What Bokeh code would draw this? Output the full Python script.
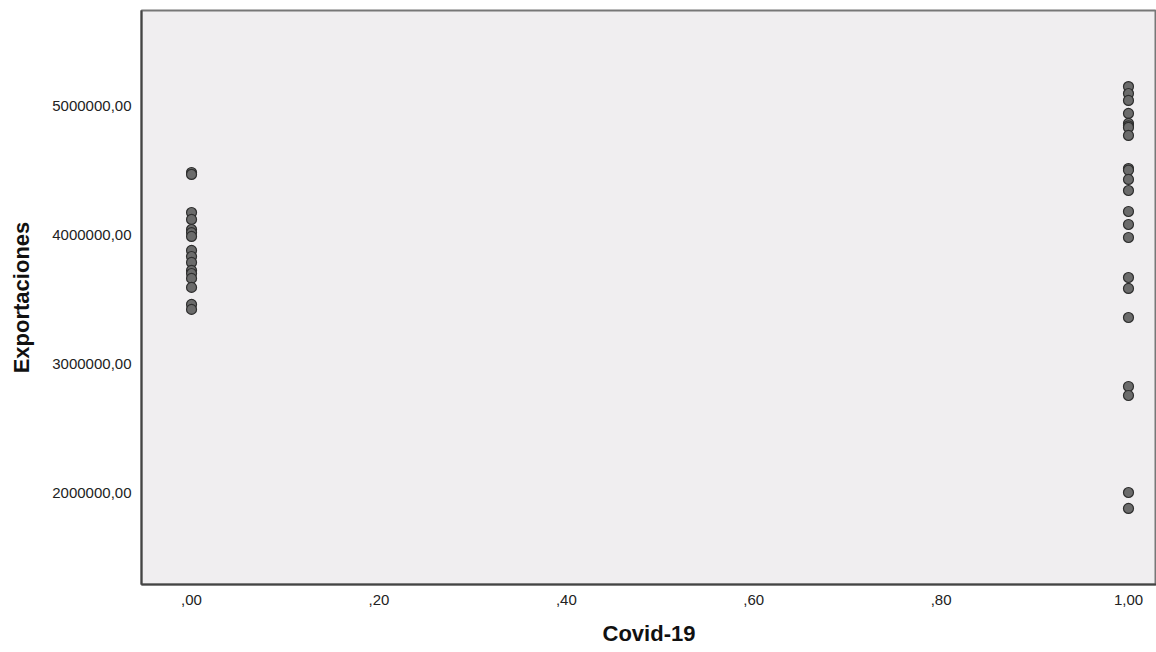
from bokeh.plotting import figure
from bokeh.models import FixedTicker, ColumnDataSource, Range1d
from bokeh.embed import file_html
from bokeh.resources import INLINE

# Data
covid_0 = [4487000, 4472000, 4176000, 4122000, 4044000, 4020000, 3990000, 3881000,
           3834000, 3788000, 3726000, 3702000, 3664000, 3594000, 3462000, 3423000]
covid_1 = [5155000, 5101000, 5047000, 4946000, 4868000, 4850000, 4837000, 4775000,
           4518000, 4505000, 4433000, 4347000, 4184000, 4083000, 3982000, 3671000,
           3586000, 3360000, 2824000, 2754000, 2000000, 1876000]

x_ticks = [0.0, 0.2, 0.4, 0.6, 0.8, 1.0]
x_tick_labels = [",00", ",20", ",40", ",60", ",80", "1,00"]
y_ticks = [2000000, 3000000, 4000000, 5000000]
y_tick_labels = ["2000000,00", "3000000,00", "4000000,00", "5000000,00"]

xs = [0.0] * len(covid_0) + [1.0] * len(covid_1)
ys = covid_0 + covid_1
src = ColumnDataSource(dict(x=xs, y=ys))

p = figure(width=1156, height=650, output_backend="svg", toolbar_location=None,
           x_range=Range1d(-0.0534, 1.0299), y_range=Range1d(1285000, 5746000),
           min_border_left=141, min_border_right=0, min_border_top=10,
           min_border_bottom=66)

p.background_fill_color = "#f0eef0"
p.border_fill_color = "white"
p.outline_line_color = "#777777"
p.outline_line_width = 2
p.grid.visible = False

p.scatter("x", "y", source=src, marker="circle", size=10,
          fill_color="#6b6b6b", line_color="#2e2e2e", line_width=1.2)

FONT = "Liberation Sans"

p.xaxis.ticker = FixedTicker(ticks=x_ticks)
p.xaxis.major_label_overrides = {t: l for t, l in zip(x_ticks, x_tick_labels)}
p.yaxis.ticker = FixedTicker(ticks=y_ticks)
p.yaxis.major_label_overrides = {t: l for t, l in zip(y_ticks, y_tick_labels)}

for ax in (p.xaxis, p.yaxis):
    ax.major_tick_line_color = None
    ax.minor_tick_line_color = None
    ax.axis_line_color = "#444444"
    ax.axis_line_width = 2
    ax.major_label_text_font = FONT
    ax.major_label_text_font_size = "15px"
    ax.major_label_text_color = "#222222"
    ax.axis_label_text_font = FONT
    ax.axis_label_text_font_size = "22px"
    ax.axis_label_text_font_style = "bold"
    ax.axis_label_text_color = "#111111"

p.xaxis.major_label_standoff = 4
p.yaxis.major_label_standoff = 4
p.xaxis.axis_label = "Covid-19"
p.yaxis.axis_label = "Exportaciones"
p.xaxis.axis_label_standoff = 13
p.yaxis.axis_label_standoff = 15

open("out.html", "w").write(file_html(p, INLINE))
